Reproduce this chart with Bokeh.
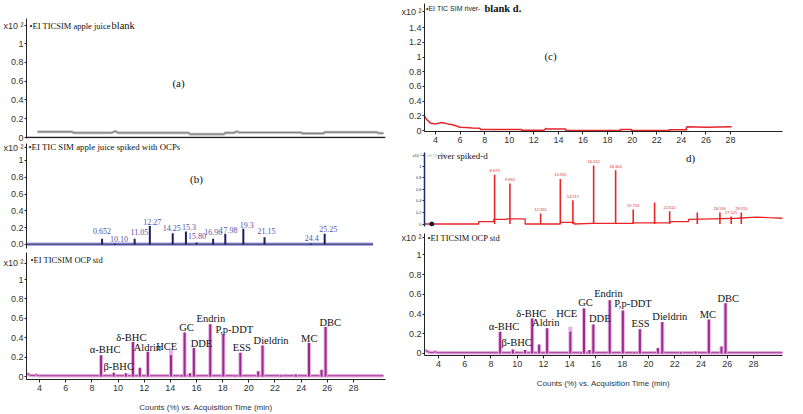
from bokeh.plotting import figure
from bokeh.layouts import row, column
from bokeh.models import Label, Span, FixedTicker, ColumnDataSource, Range1d
from bokeh.embed import file_html
from bokeh.resources import INLINE
from bokeh.core.properties import value

# ---------------- data ----------------
# (a) apple juice blank
a_time = [3.84, 6.5, 6.6, 9.5, 9.8, 10.0, 15.4, 15.5, 18.1, 18.2, 18.9, 19.05, 19.3,
          24.0, 24.1, 25.7, 25.8, 29.8, 29.9, 30.3]
a_signal = [0.06, 0.06, 0.05, 0.05, 0.067, 0.05, 0.05, 0.035, 0.035, 0.05, 0.05, 0.064, 0.053,
            0.053, 0.043, 0.043, 0.057, 0.057, 0.046, 0.046]

# (b) apple juice spiked with OCPs
b_peak_time = [8.78, 9.77, 11.27, 12.43, 14.18, 15.19, 16.00, 17.27, 18.20, 19.58, 21.20, 24.75, 25.80]
b_peak_height = [0.068, 0.012, 0.068, 0.22, 0.135, 0.155, 0.024, 0.068, 0.127, 0.187, 0.087, 0.012, 0.127]
b_peak_label = ["0.652", "10.10", "11.05", "12.27", "14.25", "15.3", "15.80", "16.96",
                "17.98", "19.3", "21.15", "24.4", "25.25"]
b_base_time = [3.0, 29.5]
b_base_signal = [0.004, 0.004]

# (c) river blank
c_time = [3.05, 3.1, 3.3, 3.6, 4.0, 4.5, 5.0, 5.4, 6.0, 6.5, 7.0, 7.6, 7.7, 11.0, 11.0, 12.8, 13.0,
          13.1, 14.6, 14.6, 19.05, 19.05, 19.95, 19.95, 23.0, 23.0, 24.4, 24.45, 26.0, 28.1]
c_signal = [0.26, 0.2, 0.146, 0.1, 0.09, 0.11, 0.09, 0.078, 0.045, 0.04, 0.035, 0.03, 0.014, 0.014,
            0.002, 0.002, 0.03, 0.02, 0.02, 0.0, 0.0, 0.014, 0.014, 0.0, 0.0, 0.01, 0.01, 0.05, 0.045, 0.052]
c_segment_time = [7.65, 8.8, 11.0, 13.35, 14.6, 17.2, 19.05, 23.0, 24.4]
c_segment_top = [0.03, 0.02, 0.015, 0.02, 0.02, 0.01, 0.014, 0.01, 0.05]

# (d) river spiked
d_base_time = [3.1, 7.4, 7.4, 8.6, 8.6, 9.6, 9.6, 11.1, 11.1, 13.9, 13.9, 15.0, 15.0, 16.4, 19.7,
               19.7, 22.6, 22.6, 24.1, 24.1, 26.0, 28.0, 29.5, 30.5, 31.6]
d_base_signal = [0.0, 0.0, 0.04, 0.04, 0.08, 0.08, 0.09, 0.09, 0.0, 0.0, 0.03, 0.03, 0.0, 0.01, 0.01,
                 0.02, 0.02, 0.04, 0.04, 0.08, 0.09, 0.10, 0.12, 0.11, 0.10]
d_peak_time = [8.67, 9.89, 12.33, 13.90, 14.90, 16.55, 18.30, 19.70, 21.40, 22.60, 24.80, 26.60, 27.50, 28.30]
d_peak_height = [0.85, 0.70, 0.18, 0.78, 0.41, 1.01, 0.93, 0.25, 0.37, 0.22, 0.20, 0.20, 0.13, 0.20]
d_peak_label = ["8.673", "9.892", "12.331", "13.905", "14.917", "16.552", "18.304", "19.703", "",
                "22.612", "", "26.590", "27.521", "28.315"]

# OCP standard
std_peak_time = [8.70, 9.67, 10.60, 11.14, 11.67, 12.28, 14.05, 14.86, 15.09, 15.50, 15.80, 17.05,
                 18.05, 18.92, 19.35, 20.72, 21.05, 22.47, 23.59, 24.60, 25.56, 25.87]
std_peak_height = [0.22, 0.04, 0.035, 0.355, 0.09, 0.255, 0.22, 0.012, 0.455, 0.035, 0.295, 0.54,
                   0.435, 0.01, 0.245, 0.055, 0.32, 0.012, 0.02, 0.345, 0.07, 0.51]
std_halo_height = [0.22, 0.04, 0.035, 0.355, 0.09, 0.255, 0.27, 0.012, 0.455, 0.035, 0.295, 0.54,
                   0.435, 0.01, 0.245, 0.055, 0.32, 0.012, 0.02, 0.345, 0.07, 0.51]
std_base_time = [3.0, 3.1, 3.3, 3.6, 3.75, 3.85, 4.0, 30.3]
std_base_signal = [0.035, 0.025, 0.012, 0.01, 0.018, 0.012, 0.008, 0.008]
std_names = ["α-BHC", "β-BHC", "δ-BHC", "Aldrin", "HCE", "GC", "DDE", "Endrin", "P,p-DDT",
             "ESS", "Dieldrin", "MC", "DBC"]

y_ticks = [0, 0.2, 0.4, 0.6, 0.8, 1]
y_tick_labels = ["0", "0.2", "0.4", "0.6", "0.8", "1"]
b_tick_labels = ["0.0", "0.2", "0.4", "0.6", "0.8", "1"]
c_y_ticks = [0, 0.2, 0.4, 0.6, 0.8, 1, 1.2, 1.4]
c_y_tick_labels = ["0", "0.2", "0.4", "0.6", "0.8", "1", "1.2", "1.4"]
x_ticks = [4, 6, 8, 10, 12, 14, 16, 18, 20, 22, 24, 26, 28]
x_title = "Counts (%) vs. Acquisition Time (min)"
scale_label = "x10 ²"

# ---------------- placement of label texts (layout) ----------------
b_lab_x = [8.78, 10.07, 11.63, 12.62, 14.10, 15.43, 16.03, 17.27, 18.44, 19.84, 21.36, 24.81, 26.08]
b_lab_y = [0.155, 0.068, 0.147, 0.265, 0.199, 0.21, 0.099, 0.147, 0.167, 0.234, 0.155, 0.075, 0.186]
sl_lab_x = [9.01, 10.05, 11.02, 12.24, 13.72, 15.24, 16.38, 17.10, 18.89, 19.46, 21.70, 24.62, 26.23]
sl_lab_y = [0.276, 0.10, 0.40, 0.30, 0.31, 0.51, 0.34, 0.60, 0.48, 0.30, 0.37, 0.395, 0.555]
sr_lab_x = [9.00, 9.96, 11.07, 12.18, 13.77, 15.20, 16.29, 16.95, 18.82, 19.40, 21.63, 24.52, 26.08]
sr_lab_y = [0.274, 0.108, 0.408, 0.31, 0.408, 0.514, 0.35, 0.605, 0.503, 0.306, 0.376, 0.40, 0.56]

SANS = "Liberation Sans"
SERIF = "Liberation Serif"
LEFT_W = 397           # width of the left column
RIGHT_W = 803 - LEFT_W


def panel(origin, size, frame, xr, yr):
    ox, oy = origin
    w, h = size
    fl, ft, fr, fb = frame
    p = figure(width=w, height=h, x_range=Range1d(*xr), y_range=Range1d(*yr),
               output_backend="svg", toolbar_location=None,
               min_border_left=fl - ox, min_border_right=ox + w - fr,
               min_border_top=ft - oy, min_border_bottom=oy + h - fb)
    p.grid.visible = False
    p.outline_line_color = None
    p.background_fill_color = "white"
    p.border_fill_color = "white"
    return p


def style_y(p, ticks, labels, scale_pos, size="9px", out=2, color="#222222", width=1):
    # the "x10 ²" scale note sits on the axis, just above the top tick
    ticks = list(ticks) + [scale_pos]
    labels = list(labels) + [scale_label]
    ax = p.yaxis[0]
    ax.ticker = FixedTicker(ticks=ticks)
    ax.major_label_overrides = {t: l for t, l in zip(ticks, labels)}
    ax.major_label_text_font = SANS
    ax.major_label_text_font_size = size
    ax.major_label_text_color = "#333333"
    ax.axis_line_color = color
    ax.axis_line_width = width
    ax.major_tick_line_color = color
    ax.major_tick_out = out
    ax.major_tick_in = 0
    ax.minor_tick_line_color = None
    ax.major_label_standoff = 1


def style_x(p, title=None):
    ax = p.xaxis[0]
    ax.ticker = FixedTicker(ticks=x_ticks)
    ax.major_label_text_font = SANS
    ax.major_label_text_font_size = "9px"
    ax.major_label_text_color = "#333333"
    ax.axis_line_color = "#222222"
    ax.major_tick_line_color = "#222222"
    ax.major_tick_out = 3
    ax.major_tick_in = 0
    ax.minor_tick_line_color = None
    ax.major_label_standoff = 2
    if title:
        ax.axis_label = title
        ax.axis_label_text_font = SANS
        ax.axis_label_text_font_size = "8px"
        ax.axis_label_text_font_style = "normal"
        ax.axis_label_text_color = "#333333"
        ax.axis_label_standoff = 9


def note(p, frame, px, py, text, size, font=SERIF, color="#111111", align="left", style="normal"):
    fl, ft, fr, fb = frame
    p.add_layout(Label(x=px - fl, y=fb - py, x_units="screen", y_units="screen", text=text,
                       text_font=font, text_font_size=f"{size}px", text_color=color,
                       text_align=align, text_baseline="middle", text_font_style=style))


# ---------------- (a) ----------------
fa = (25, 18, 385, 138)
pa = panel((0, 0), (LEFT_W, 142), fa, (3.0, 30.45), (-0.0106, 1.266))
pa.xaxis.visible = False
style_y(pa, y_ticks, y_tick_labels, 1.19)
pa.line(a_time, a_signal, line_color="#c8c8c8", line_width=3)
pa.line(a_time, a_signal, line_color="#808080", line_width=1.2)
pa.add_layout(Span(location=0, dimension="width", line_color="#222222", line_width=1.5))
note(pa, fa, 28, 25, "•EI TICSIM apple juice", 8.5)
note(pa, fa, 110, 25, "blank", 10.5)
note(pa, fa, 177, 82, "(a)", 11, align="center")

# ---------------- (b) ----------------
fb_ = (25, 143, 385, 248)
pb = panel((0, 142), (LEFT_W, 108), fb_, (3.0, 30.45), (-0.048, 1.202))
pb.xaxis.visible = False
style_y(pb, y_ticks, b_tick_labels, 1.155)
pb.line(b_base_time, b_base_signal, line_color="#a6a6e0", line_width=3.5)
pb.line(b_base_time, b_base_signal, line_color="#2a2a6a", line_width=1)
pb.segment(x0=b_peak_time, y0=[0] * len(b_peak_time), x1=b_peak_time, y1=b_peak_height,
           line_color="#1e1e5a", line_width=2)
pb.text(x=b_lab_x, y=b_lab_y, text=b_peak_label, text_font=value(SERIF), text_font_size="8px",
        text_color="#5252a6", text_align="center", text_baseline="middle")
note(pb, fb_, 27, 146, "•EI TIC SIM apple juice spiked with OCPs", 8.8)
note(pb, fb_, 195, 178, "(b)", 11, align="center")


# ---------------- standard panels ----------------
def std_panel(origin, size, frame, xr, yr, lab_x, lab_y, scale_pos, title_pos):
    p = panel(origin, size, frame, xr, yr)
    style_y(p, y_ticks, y_tick_labels, scale_pos)
    style_x(p, x_title)
    p.line(std_base_time, std_base_signal, line_color="#e2a9dc", line_width=3.5)
    p.line(std_base_time, std_base_signal, line_color="#a43a98", line_width=1)
    z = [0] * len(std_peak_time)
    p.segment(x0=std_peak_time, y0=z, x1=std_peak_time, y1=std_halo_height,
              line_color="#e6b0e0", line_width=4)
    p.segment(x0=std_peak_time, y0=z, x1=std_peak_time, y1=std_peak_height,
              line_color="#9c2a8e", line_width=2)
    p.text(x=lab_x, y=lab_y, text=std_names, text_font=value(SERIF), text_font_size="10.5px",
           text_color="#111111", text_align="center", text_baseline="middle")
    note(p, frame, title_pos[0], title_pos[1], "•EI TICSIM OCP std", 8.5)
    return p


fsl = (24, 252, 385, 380)
psl = std_panel((0, 250), (LEFT_W, 164), fsl, (3.0, 30.45), (-0.0307, 1.279),
                sl_lab_x, sl_lab_y, 1.167, (28, 260))

fsr = (422, 233, 782, 355)
psr = std_panel((LEFT_W, 232), (RIGHT_W, 182), fsr, (2.94, 30.21), (-0.0203, 1.216),
                sr_lab_x, sr_lab_y, 1.175, (425, 237))

# ---------------- (c) ----------------
fc = (420, 3, 800, 131)
pc = panel((LEFT_W, 0), (RIGHT_W, 150), fc, (3.107, 32.23), (-0.0136, 1.730))
style_y(pc, c_y_ticks, c_y_tick_labels, 1.62)
style_x(pc)
pc.segment(x0=c_segment_time, y0=[0] * len(c_segment_time), x1=c_segment_time, y1=c_segment_top,
           line_color="#9a9a9a", line_width=1)
pc.line(c_time, c_signal, line_color="#e8262a", line_width=1.5)
note(pc, fc, 421.5, 8, "•EI TIC SIM river-", 7, SANS, "#222222")
note(pc, fc, 480, 7.5, "blank d.", 10.5, SERIF, "#111111", style="bold")
note(pc, fc, 546, 55, "(c)", 11, align="center")

# ---------------- (d) ----------------
fd = (424, 152, 800, 226)
pd = panel((LEFT_W, 150), (RIGHT_W, 82), fd, (3.09, 31.58), (-0.043, 1.237))
pd.xaxis.visible = False
style_y(pd, y_ticks, y_tick_labels, 1.185, size="4px", out=2, color="#1a2a6a", width=1.5)
pd.line(d_base_time, d_base_signal, line_color="#e8262a", line_width=1.3)
pd.segment(x0=d_peak_time, y0=[0] * len(d_peak_time), x1=d_peak_time, y1=d_peak_height,
           line_color="#e8262a", line_width=1.6)
pd.text(x=d_peak_time, y=[h + 0.07 for h in d_peak_height], text=d_peak_label,
        text_font=value(SANS), text_font_size="4px", text_color="#e03030",
        text_align="center", text_baseline="middle")
pd.scatter([3.67], [0.0], size=4, color="#111133")
note(pd, fd, 426, 155, "+EI TIC SIM", 3.5, SANS, "#aaaaaa")
note(pd, fd, 437, 155, "river spiked-d", 9, SERIF, "#111111")
note(pd, fd, 690, 157, "d)", 11, align="center")

layout = row(column(pa, pb, psl), column(pc, pd, psr))
open("out.html", "w").write(file_html(layout, INLINE))
